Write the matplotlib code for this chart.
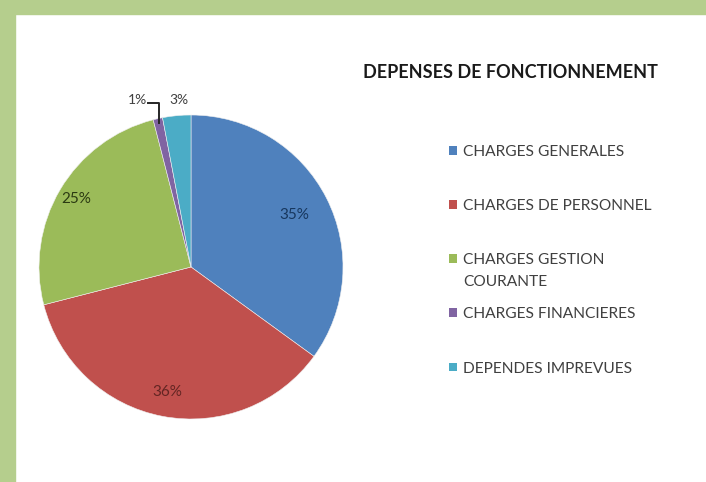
# Pie chart of operating expenses
import numpy as np
import matplotlib.pyplot as plt
from matplotlib.patches import Rectangle, Patch

# data
categories = ['CHARGES GENERALES', 'CHARGES DE PERSONNEL', 'CHARGES GESTION\nCOURANTE',
              'CHARGES FINANCIERES', 'DEPENDES IMPREVUES']
values = [35, 36, 25, 1, 3]
title = 'DEPENSES DE FONCTIONNEMENT'

colors = ['#4F81BD', '#C0504D', '#9BBB59', '#8064A2', '#4BACC6']
label_colors = ['#17375E', '#632523', '#2B3A12', '#404040', '#404040']
label_r = [0.76, 0.84, 0.88, None, None]

plt.rcParams['font.family'] = ['Lato', 'DejaVu Sans']

fig = plt.figure(figsize=(7.06, 4.82), dpi=100)
W, H = 706, 482

# green frame (top and left)
fig.patches.append(Rectangle((0, 1 - 14 / H), 1, 14 / H, transform=fig.transFigure,
                             color='#B5CE8D', zorder=0))
fig.patches.append(Rectangle((0, 0), 15 / W, 1, transform=fig.transFigure,
                             color='#B5CE8D', zorder=0))

cx, cy, R = 191, 267, 152
ax = fig.add_axes([(cx - R) / W, (H - cy - R) / H, 2 * R / W, 2 * R / H])
wedges, _ = ax.pie(values, colors=colors, startangle=90, counterclock=False,
                   radius=1.0, wedgeprops=dict(linewidth=0.4, edgecolor='#f0f0f0'))
ax.set_xlim(-1, 1)
ax.set_ylim(-1, 1)
ax.set_aspect('equal')
ax.axis('off')

for i, w in enumerate(wedges):
    ang = np.deg2rad((w.theta1 + w.theta2) / 2)
    pct = '%d%%' % values[i]
    if label_r[i] is not None:
        ax.text(label_r[i] * np.cos(ang), label_r[i] * np.sin(ang), pct,
                ha='center', va='center', fontsize=11, color=label_colors[i])

# small slices: outside labels
ang = np.deg2rad((wedges[3].theta1 + wedges[3].theta2) / 2)
x0, y0 = 0.97 * np.cos(ang), 0.97 * np.sin(ang)
ax.plot([x0, x0, x0 - 0.07], [y0, 1.08, 1.08], color='#262626', lw=1.4, clip_on=False)
ax.text(x0 - 0.08, 1.1, '%d%%' % values[3], ha='right', va='center', fontsize=10,
        color='#404040')
ang = np.deg2rad((wedges[4].theta1 + wedges[4].theta2) / 2)
ax.text(1.13 * np.cos(ang) + 0.03, 1.1, '%d%%' % values[4], ha='center', va='center',
        fontsize=10, color='#404040')

fig.text(510 / W, 1 - 73 / H, title, ha='center', va='center', fontsize=13,
         fontweight='bold', color='#1a1a1a')

# legend: only the first line of each name, wrapped lines added below
first = [c.split('\n')[0] for c in categories]
handles = [Patch(facecolor=c, edgecolor='none') for c in colors]
leg = fig.legend(handles, first, loc='upper left', bbox_to_anchor=(435 / W, 1 - 131 / H),
                 frameon=False, fontsize=11.2, labelspacing=2.58, handlelength=0.5,
                 handleheight=0.5, handletextpad=0.4, labelcolor='#404040')
fig.canvas.draw()
for t, c in zip(leg.get_texts(), categories):
    rest = c.split('\n')[1:]
    if rest:
        bb = t.get_window_extent()
        fig.text(bb.x0 / W, (bb.y0 - 22) / H, '\n'.join(rest), ha='left', va='bottom',
                 fontsize=11.2, color='#404040')

plt.savefig('out.png', dpi=100, facecolor='white')
